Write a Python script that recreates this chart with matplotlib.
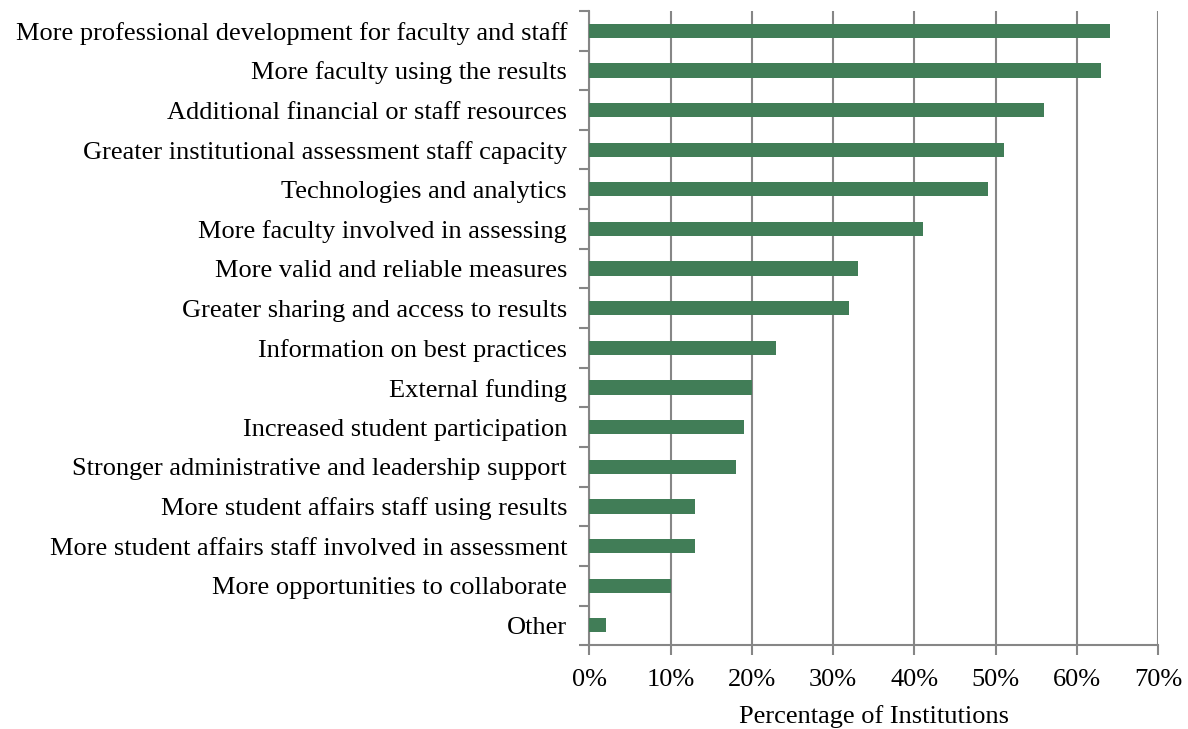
import numpy as np
import matplotlib.pyplot as plt
from matplotlib.ticker import FixedLocator, PercentFormatter

categories = [
    "More professional development for faculty and staff",
    "More faculty using the results",
    "Additional financial or staff resources",
    "Greater institutional assessment staff capacity",
    "Technologies and analytics",
    "More faculty involved in assessing",
    "More valid and reliable measures",
    "Greater sharing and access to results",
    "Information on best practices",
    "External funding",
    "Increased student participation",
    "Stronger administrative and leadership support",
    "More student affairs staff using results",
    "More student affairs staff involved in assessment",
    "More opportunities to collaborate",
    "Other",
]
values = [64, 63, 56, 51, 49, 41, 33, 32, 23, 20, 19, 18, 13, 13, 10, 2]

plt.rcParams['font.family'] = ['Liberation Serif', 'DejaVu Serif']

fig = plt.figure(figsize=(11.88, 7.29), dpi=100)
ax = fig.add_axes([0.496, 0.115, 0.479, 0.870])

n = len(categories)
y = np.arange(n)[::-1]
ax.barh(y, values, height=0.36, color="#417d57", zorder=3)

ax.set_xlim(0, 70)
ax.set_ylim(-0.5, n - 0.5)
ax.set_xticks(np.arange(0, 71, 10))
ax.xaxis.set_major_formatter(PercentFormatter(decimals=0))
ax.grid(axis="x", color="#868686", linewidth=1.5, zorder=0)

ax.set_yticks(y)
ax.set_yticklabels(categories, fontsize=19)
ax.yaxis.set_minor_locator(FixedLocator(np.arange(-0.5, n, 1)))
ax.tick_params(axis="y", which="major", length=0, pad=16)
ax.tick_params(axis="y", which="minor", length=7, width=1.5, color="#868686")
ax.tick_params(axis="x", length=7, width=1.5, color="#868686", labelsize=19, pad=10)

for s in ["top", "right"]:
    ax.spines[s].set_visible(False)
for s in ["left", "bottom"]:
    ax.spines[s].set_color("#868686")
    ax.spines[s].set_linewidth(1.5)

ax.set_xlabel("Percentage of Institutions", fontsize=19, labelpad=10)

fig.savefig("out.png", dpi=100)
